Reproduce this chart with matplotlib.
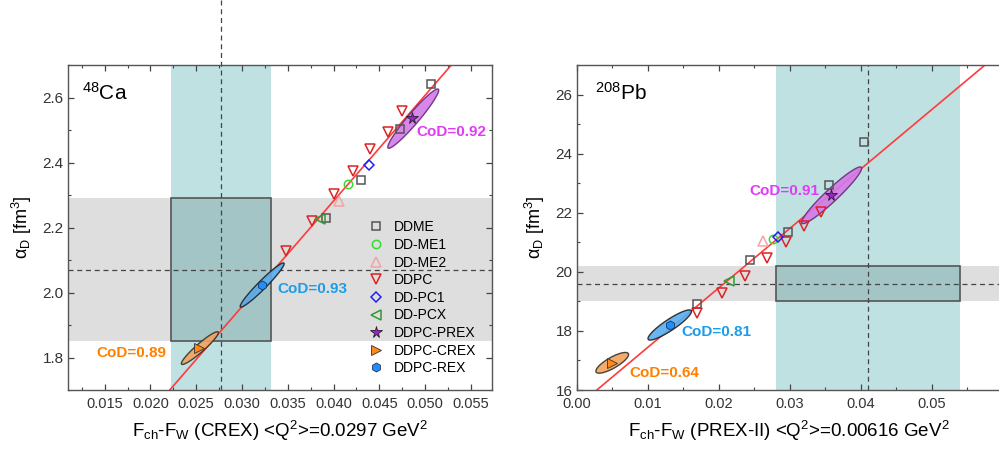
import numpy as np
import matplotlib
matplotlib.use('Agg')
import matplotlib.pyplot as plt
from matplotlib.patches import Rectangle
from matplotlib.ticker import MultipleLocator, FormatStrFormatter

plt.rcParams['font.family'] = ['Liberation Sans', 'DejaVu Sans']
plt.rcParams['mathtext.fontset'] = 'custom'
plt.rcParams['mathtext.rm'] = 'Liberation Sans'
plt.rcParams['mathtext.it'] = 'Liberation Sans:italic'
plt.rcParams['mathtext.bf'] = 'Liberation Sans:bold'

models = ['DDME', 'DD-ME1', 'DD-ME2', 'DDPC', 'DD-PC1', 'DD-PCX',
          'DDPC-PREX', 'DDPC-CREX', 'DDPC-REX']

# 48Ca : F_ch - F_W (CREX) vs alpha_D
ca_x = {
    'DDME': [0.0506, 0.0473, 0.0430, 0.0392],
    'DD-ME1': [0.0416],
    'DD-ME2': [0.0406],
    'DDPC': [0.0475, 0.0459, 0.0440, 0.0421, 0.0400, 0.0376, 0.0348],
    'DD-PC1': [0.0439],
    'DD-PCX': [0.0385],
    'DDPC-PREX': [0.0486],
    'DDPC-CREX': [0.0253],
    'DDPC-REX': [0.0322],
}
ca_y = {
    'DDME': [2.643, 2.503, 2.346, 2.229],
    'DD-ME1': [2.335],
    'DD-ME2': [2.282],
    'DDPC': [2.559, 2.494, 2.441, 2.373, 2.302, 2.220, 2.128],
    'DD-PC1': [2.392],
    'DD-PCX': [2.226],
    'DDPC-PREX': [2.538],
    'DDPC-CREX': [1.828],
    'DDPC-REX': [2.023],
}
ca_fit = [0.981, 32.52]          # intercept, slope
ca_exp = [0.0277, 0.0055, 2.07, 0.22]

# 208Pb : F_ch - F_W (PREX-II) vs alpha_D
pb_x = {
    'DDME': [0.0404, 0.0355, 0.0297, 0.0244, 0.0169],
    'DD-ME1': [0.0277],
    'DD-ME2': [0.0262],
    'DDPC': [0.0344, 0.0320, 0.0295, 0.0268, 0.0237, 0.0204, 0.0169],
    'DD-PC1': [0.0283],
    'DD-PCX': [0.0215],
    'DDPC-PREX': [0.0358],
    'DDPC-CREX': [0.0049],
    'DDPC-REX': [0.0131],
}
pb_y = {
    'DDME': [24.40, 22.93, 21.36, 20.41, 18.90],
    'DD-ME1': [21.12],
    'DD-ME2': [21.03],
    'DDPC': [22.01, 21.54, 21.00, 20.46, 19.87, 19.28, 18.62],
    'DD-PC1': [21.18],
    'DD-PCX': [19.69],
    'DDPC-PREX': [22.61],
    'DDPC-CREX': [16.93],
    'DDPC-REX': [18.20],
}
pb_fit = [15.43, 201.2]
pb_exp = [0.041, 0.013, 19.6, 0.6]

# correlation ellipses: PREX, REX, CREX
ell_names = ['DDPC-PREX', 'DDPC-REX', 'DDPC-CREX']
ca_ell_cx = [0.0487, 0.0322, 0.0254]
ca_ell_cy = [2.535, 2.023, 1.829]
ca_ell_sx = [0.00278, 0.0024, 0.00202]
ca_ell_sy = [0.0912, 0.068, 0.0503]
ca_cod = [0.92, 0.93, 0.89]

pb_ell_cx = [0.0359, 0.0131, 0.0050]
pb_ell_cy = [22.59, 18.20, 16.92]
pb_ell_sx = [0.00423, 0.00306, 0.0023]
pb_ell_sy = [0.96, 0.51, 0.35]
pb_cod = [0.91, 0.81, 0.64]

# styles
mstyle = {
    'DDME': dict(marker='s', ms=5.5, mfc='none', mec='#555555', mew=1.1),
    'DD-ME1': dict(marker='o', ms=6, mfc='none', mec='#33dd33', mew=1.1),
    'DD-ME2': dict(marker='^', ms=7, mfc='none', mec='#f4a3a3', mew=1.1),
    'DDPC': dict(marker='v', ms=7.5, mfc='none', mec='#dd2222', mew=1.1),
    'DD-PC1': dict(marker='D', ms=5.5, mfc='none', mec='#2222ee', mew=1.1),
    'DD-PCX': dict(marker='<', ms=7, mfc='none', mec='#339933', mew=1.1),
    'DDPC-PREX': dict(marker='*', ms=8.5, mfc='#a020d0', mec='#222222', mew=0.6),
    'DDPC-CREX': dict(marker='>', ms=7, mfc='#ff8a1a', mec='#333333', mew=0.6),
    'DDPC-REX': dict(marker='h', ms=6.5, mfc='#1e8fff', mec='#223355', mew=0.6),
}
ell_face = ['#d27ae8', '#56aef0', '#f2a35a']
ell_edge = ['#6a2a7a', '#222222', '#333333']
cod_color = ['#e03cf5', '#1d9ce8', '#ff8000']

teal = '#bfe1e2'
grey = '#dedede'
box = '#a4c5c6'


def draw_ellipse(ax, cx, cy, sx, sy, cod, face, edge):
    rho = np.sqrt(cod)
    t = np.linspace(0, 2 * np.pi, 200)
    ex = cx + sx * np.cos(t)
    ey = cy + sy * (rho * np.cos(t) + np.sqrt(1 - rho ** 2) * np.sin(t))
    ax.fill(ex, ey, facecolor=face, edgecolor=edge, lw=1.0, alpha=0.9, zorder=3)


def panel(ax, xs, ys, fit, exp, ecx, ecy, esx, esy, cods, cod_pos, xlim, ylim):
    ex, edx, ey, edy = exp
    ax.axvspan(ex - edx, ex + edx, color=teal, lw=0, zorder=0)
    ax.axhspan(ey - edy, ey + edy, color=grey, lw=0, zorder=0)
    ax.add_patch(Rectangle((ex - edx, ey - edy), 2 * edx, 2 * edy,
                           facecolor=box, edgecolor='#555555', lw=1.2, zorder=1))
    ax.axhline(ey, color='#444444', ls='--', lw=0.9, dashes=(4, 3), zorder=1.5)

    xx = np.array(xlim)
    ax.plot(xx, fit[0] + fit[1] * xx, color='#ff3b3b', lw=1.2, zorder=2)

    for i in range(len(ecx)):
        draw_ellipse(ax, ecx[i], ecy[i], esx[i], esy[i], cods[i], ell_face[i], ell_edge[i])
        ax.text(cod_pos[i][0], cod_pos[i][1], 'CoD=%.2f' % cods[i], color=cod_color[i],
                fontsize=11, fontweight='bold', va='center', ha='left', zorder=6)

    for m in models:
        ax.plot(xs[m], ys[m], ls='none', label=m, zorder=4, **mstyle[m])

    ax.set_xlim(*xlim)
    ax.set_ylim(*ylim)
    for s in ax.spines.values():
        s.set_color('#555555')
        s.set_linewidth(1.0)
    ax.tick_params(which='both', direction='in', top=True, right=True,
                   color='#444444', labelcolor='#333333')
    ax.tick_params(which='major', length=4, width=0.9, labelsize=10.5, pad=5)
    ax.tick_params(axis='y', which='major', labelsize=11, pad=3)
    ax.tick_params(which='minor', length=2.2, width=0.8)
    ax.set_ylabel('α$_{\\rm D}$ [fm$^3$]', fontsize=13, labelpad=6)


fig = plt.figure(figsize=(9.99, 4.49), dpi=100)
ax1 = fig.add_axes([0.0681, 0.1314, 0.4244, 0.7238])
ax2 = fig.add_axes([0.5773, 0.1314, 0.4250, 0.7238])

panel(ax1, ca_x, ca_y, ca_fit, ca_exp, ca_ell_cx, ca_ell_cy, ca_ell_sx, ca_ell_sy,
      ca_cod, [(0.0490, 2.493), (0.0339, 2.010), (0.0141, 1.813)],
      (0.011, 0.0573), (1.70, 2.70))
panel(ax2, pb_x, pb_y, pb_fit, pb_exp, pb_ell_cx, pb_ell_cy, pb_ell_sx, pb_ell_sy,
      pb_cod, [(0.0243, 22.72), (0.0147, 17.98), (0.0074, 16.59)],
      (0.0, 0.0598), (16, 27))
# right frame of the Pb panel lies past the image edge
ax2.tick_params(which='both', right=False)

# vertical experimental lines; the CREX one runs up past the frame
ax1.axvline(ca_exp[0], ymin=0, ymax=1.2, color='#444444', ls='--', lw=0.9,
            dashes=(4, 3), clip_on=False, zorder=1.5)
ax2.axvline(pb_exp[0], color='#444444', ls='--', lw=0.9, dashes=(4, 3), zorder=1.5)

ax1.xaxis.set_major_locator(MultipleLocator(0.005))
ax1.xaxis.set_minor_locator(MultipleLocator(0.0025))
ax1.xaxis.set_major_formatter(FormatStrFormatter('%.3f'))
ax1.yaxis.set_major_locator(MultipleLocator(0.2))
ax1.yaxis.set_minor_locator(MultipleLocator(0.1))
ax1.yaxis.set_major_formatter(FormatStrFormatter('%.1f'))

ax2.xaxis.set_major_locator(MultipleLocator(0.01))
ax2.xaxis.set_minor_locator(MultipleLocator(0.005))
ax2.xaxis.set_major_formatter(FormatStrFormatter('%.2f'))
ax2.yaxis.set_major_locator(MultipleLocator(2))
ax2.yaxis.set_minor_locator(MultipleLocator(1))
ax2.yaxis.set_major_formatter(FormatStrFormatter('%d'))

ax1.set_xlabel('F$_{\\rm ch}$-F$_{\\rm W}$ (CREX) <Q$^2$>=0.0297 GeV$^2$',
               fontsize=13.5, labelpad=6)
ax2.set_xlabel('F$_{\\rm ch}$-F$_{\\rm W}$ (PREX-II) <Q$^2$>=0.00616 GeV$^2$',
               fontsize=13.5, labelpad=6)

ax1.text(0.032, 0.914, '$^{48}$Ca', transform=ax1.transAxes, fontsize=15,
         va='center', ha='left', zorder=6)
ax2.text(0.043, 0.914, '$^{208}$Pb', transform=ax2.transAxes, fontsize=15,
         va='center', ha='left', zorder=6)

ax1.legend(loc='upper left', bbox_to_anchor=(0.71, 0.522), frameon=False,
           fontsize=10, handlelength=1.0, handletextpad=0.8, labelspacing=0.26,
           borderpad=0, borderaxespad=0, numpoints=1)

fig.savefig('out.png', dpi=100)
